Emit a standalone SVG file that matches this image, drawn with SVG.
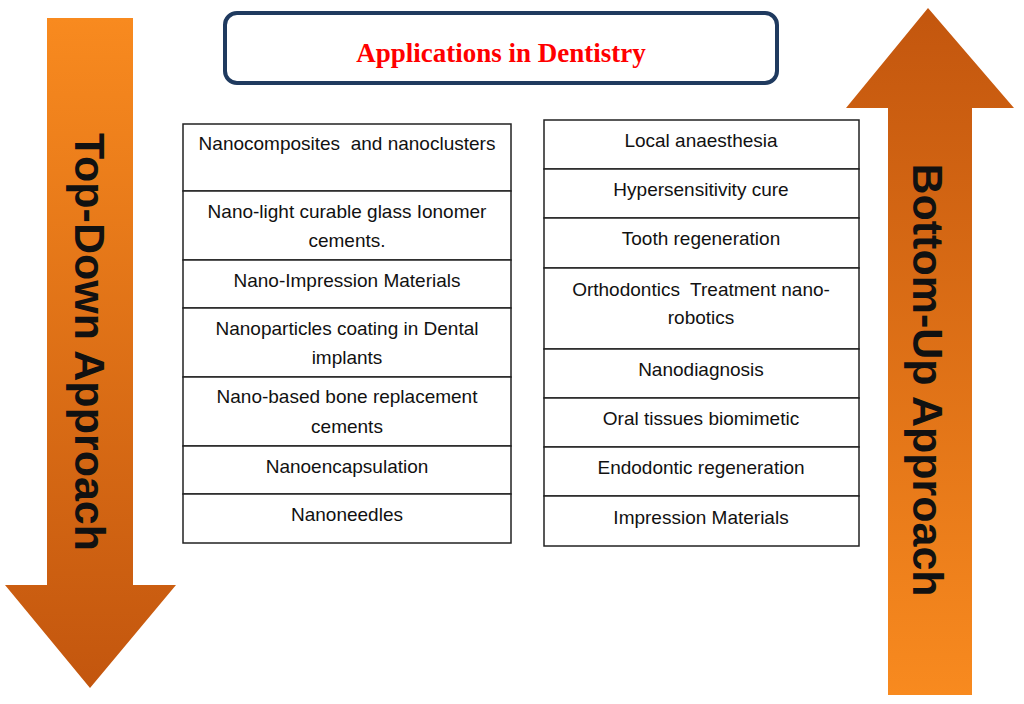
<svg xmlns="http://www.w3.org/2000/svg" width="1024" height="704" viewBox="0 0 1024 704">
<defs>
<linearGradient id="gDown" x1="0" y1="0" x2="0" y2="1">
<stop offset="0" stop-color="#F88A1F"/>
<stop offset="1" stop-color="#C3560E"/>
</linearGradient>
<linearGradient id="gUp" x1="0" y1="0" x2="0" y2="1">
<stop offset="0" stop-color="#C3560E"/>
<stop offset="1" stop-color="#F88A1F"/>
</linearGradient>
<style>
.cell{fill:#fff;stroke:#222;stroke-width:1.5}
.t{font-family:"Liberation Sans",Arial,sans-serif;font-size:19px;fill:#111;text-anchor:middle;white-space:pre}
.ar{font-family:"Liberation Sans",Arial,sans-serif;font-size:43px;font-weight:bold;fill:#111;text-anchor:middle}
</style>
</defs>
<rect width="1024" height="704" fill="#fff"/>
<g id="topdown">
<polygon points="47,18 133,18 133,585 176,585 90,688 5,585 47,585" fill="url(#gDown)"/>
<text class="ar" transform="translate(75,342) rotate(90)">Top-Down Approach</text>
</g>
<g id="bottomup">
<polygon points="928,8 1014,108 972,108 972,695 888,695 888,108 846,108" fill="url(#gUp)"/>
<text class="ar" transform="translate(913,380) rotate(90)">Bottom-Up Approach</text>
</g>
<g id="title">
<rect x="225" y="13" width="552" height="70" rx="12" fill="#fff" stroke="#1F3A5F" stroke-width="4"/>
<text x="501" y="62" font-family="Liberation Serif,Times New Roman,serif" font-size="27" font-weight="bold" fill="#FF0000" text-anchor="middle">Applications in Dentistry</text>
</g>
<g id="left-table">
<rect class="cell" x="183" y="124" width="328" height="67"/>
<text class="t" x="347" y="150" xml:space="preserve">Nanocomposites  and nanoclusters</text>
<rect class="cell" x="183" y="191" width="328" height="69"/>
<text class="t" x="347" y="218">Nano-light curable glass Ionomer</text>
<text class="t" x="347" y="247">cements.</text>
<rect class="cell" x="183" y="260" width="328" height="48"/>
<text class="t" x="347" y="287">Nano-Impression Materials</text>
<rect class="cell" x="183" y="308" width="328" height="69"/>
<text class="t" x="347" y="335">Nanoparticles coating in Dental</text>
<text class="t" x="347" y="364">implants</text>
<rect class="cell" x="183" y="377" width="328" height="69"/>
<text class="t" x="347" y="403">Nano-based bone replacement</text>
<text class="t" x="347" y="433">cements</text>
<rect class="cell" x="183" y="446" width="328" height="48"/>
<text class="t" x="347" y="473">Nanoencapsulation</text>
<rect class="cell" x="183" y="494" width="328" height="49"/>
<text class="t" x="347" y="521">Nanoneedles</text>
</g>
<g id="right-table">
<rect class="cell" x="544" y="120" width="315" height="49"/>
<text class="t" x="701" y="147">Local anaesthesia</text>
<rect class="cell" x="544" y="169" width="315" height="49"/>
<text class="t" x="701" y="196">Hypersensitivity cure</text>
<rect class="cell" x="544" y="218" width="315" height="50"/>
<text class="t" x="701" y="245">Tooth regeneration</text>
<rect class="cell" x="544" y="268" width="315" height="81"/>
<text class="t" x="701" y="296" xml:space="preserve">Orthodontics  Treatment nano-</text>
<text class="t" x="701" y="324">robotics</text>
<rect class="cell" x="544" y="349" width="315" height="49"/>
<text class="t" x="701" y="376">Nanodiagnosis</text>
<rect class="cell" x="544" y="398" width="315" height="49"/>
<text class="t" x="701" y="425">Oral tissues biomimetic</text>
<rect class="cell" x="544" y="447" width="315" height="49"/>
<text class="t" x="701" y="474">Endodontic regeneration</text>
<rect class="cell" x="544" y="496" width="315" height="50"/>
<text class="t" x="701" y="524">Impression Materials</text>
</g>
</svg>
